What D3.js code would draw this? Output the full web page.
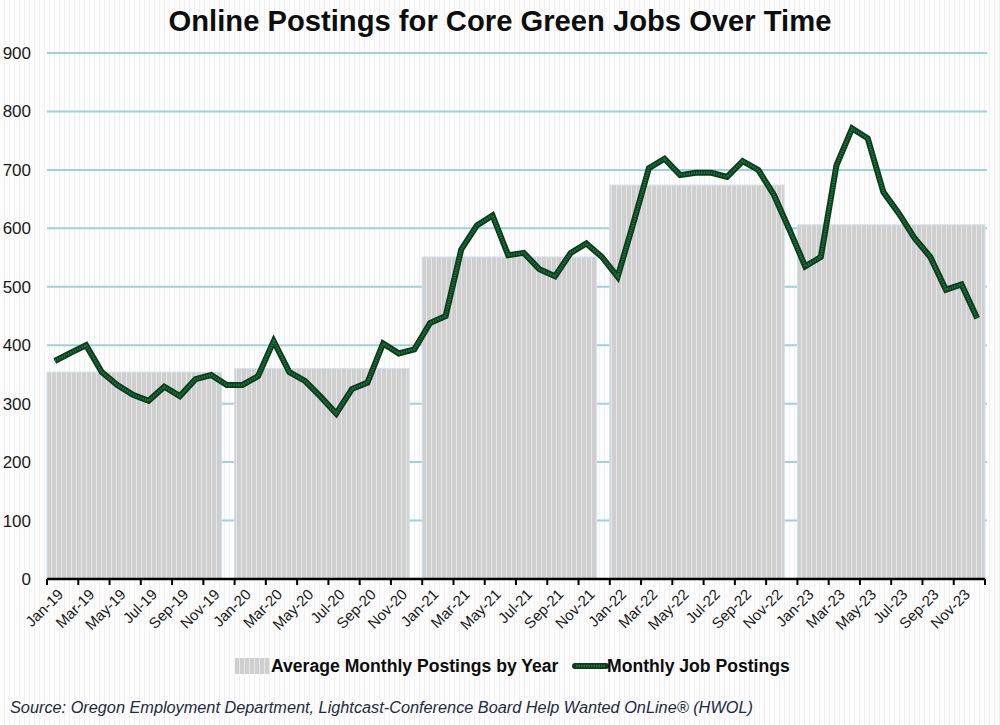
<!DOCTYPE html>
<html>
<head>
<meta charset="utf-8">
<script src="https://cdn.jsdelivr.net/npm/d3@7"></script>
<style>
  body { margin: 0; background: #fff; }
  svg { display: block; font-family: "Liberation Sans", Arial, sans-serif; }
</style>
</head>
<body>
<div id="chart"></div>
<script>
// data
var years = ["19", "20", "21", "22", "23"];
var monthNames = ["Jan", "Feb", "Mar", "Apr", "May", "Jun", "Jul", "Aug", "Sep", "Oct", "Nov", "Dec"];
var yearlyAverage = [354, 360, 551, 674, 606];
var monthlyPostings = [
  373, 387, 400, 354, 332, 315, 305, 329, 313, 342, 349, 332,
  332, 347, 407, 354, 339, 312, 283, 325, 336, 403, 386, 393,
  438, 450, 564, 605, 622, 554, 558, 530, 518, 558, 574, 551,
  517, 608, 703, 719, 691, 695, 695, 688, 715, 700, 657, 597,
  535, 551, 708, 771, 754, 662, 625, 583, 551, 495, 504, 446
];
var yTicks = [0, 100, 200, 300, 400, 500, 600, 700, 800, 900];

var months = [];
years.forEach(function(y){
  monthNames.forEach(function(m){ months.push(m + "-" + y); });
});

var W = 1000, H = 725;
var margin = {top: 53, right: 15, bottom: 146, left: 47};
var w = 985 - margin.left;
var h = 579 - margin.top;

var svg = d3.select("#chart").append("svg")
  .attr("width", W)
  .attr("height", H);

var defs = svg.append("defs");

// faint vertical texture of the background
var bgPat = defs.append("pattern")
  .attr("id", "bg-stripes")
  .attr("width", 5).attr("height", 10)
  .attr("patternUnits", "userSpaceOnUse");
bgPat.append("rect").attr("width", 5).attr("height", 10).attr("fill", "#fdfdfd");
bgPat.append("rect").attr("x", 4).attr("width", 1).attr("height", 10).attr("fill", "#f1f1f1");

// grey columns with light vertical stripes
var barPat = defs.append("pattern")
  .attr("id", "bar-stripes")
  .attr("width", 5).attr("height", 10)
  .attr("patternUnits", "userSpaceOnUse");
barPat.append("rect").attr("width", 5).attr("height", 10).attr("fill", "#cfcfcf");
barPat.append("rect").attr("x", 4).attr("width", 1).attr("height", 10).attr("fill", "#e6e6e6");

svg.append("rect")
  .attr("width", W).attr("height", H)
  .attr("fill", "url(#bg-stripes)");

svg.append("text")
  .attr("x", 500).attr("y", 31)
  .attr("text-anchor", "middle")
  .style("font-size", "29.2px")
  .style("font-weight", "bold")
  .attr("fill", "#0d0d0d")
  .text("Online Postings for Core Green Jobs Over Time");

var g = svg.append("g")
  .attr("transform", "translate(" + margin.left + "," + margin.top + ")");

var x = d3.scaleBand()
  .domain(months)
  .range([0, w])
  .padding(0);

var y = d3.scaleLinear()
  .domain([0, 900])
  .range([h, 0]);

// gridlines
g.append("g")
  .selectAll("line")
  .data(yTicks.slice(1))
  .enter().append("line")
  .attr("x1", 0).attr("x2", w + 2)
  .attr("y1", function(d){ return y(d); })
  .attr("y2", function(d){ return y(d); })
  .attr("stroke", "#9fd2d8")
  .attr("stroke-width", 2);

// yearly average columns
g.append("g")
  .selectAll("rect")
  .data(yearlyAverage)
  .enter().append("rect")
  .attr("x", function(d, i){ return x("Jan-" + years[i]); })
  .attr("y", function(d){ return y(d); })
  .attr("width", function(d, i){
    var end = x("Dec-" + years[i]) + (i === years.length - 1 ? x.bandwidth() : x.bandwidth() * 0.16);
    return end - x("Jan-" + years[i]);
  })
  .attr("height", function(d){ return h - y(d); })
  .attr("fill", "url(#bar-stripes)")
  .attr("stroke", "#cfe2ee")
  .attr("stroke-width", 1);

// y axis labels
g.append("g")
  .selectAll("text")
  .data(yTicks)
  .enter().append("text")
  .attr("x", -16)
  .attr("y", function(d){ return y(d); })
  .attr("dy", "0.35em")
  .attr("text-anchor", "end")
  .style("font-size", "17px")
  .attr("fill", "#1a1a1a")
  .text(function(d){ return d; });

// x axis line and ticks (between categories, every 2 months)
var xAxis = g.append("g").attr("transform", "translate(0," + h + ")");
xAxis.append("line")
  .attr("x1", 0).attr("x2", w)
  .attr("stroke", "#000").attr("stroke-width", 2.5);
xAxis.selectAll(".tick")
  .data(months.filter(function(d, i){ return i % 2 === 0; }).concat(["end"]))
  .enter().append("line")
  .attr("x1", function(d){ return d === "end" ? w : x(d); })
  .attr("x2", function(d){ return d === "end" ? w : x(d); })
  .attr("y1", 0).attr("y2", 6)
  .attr("stroke", "#000").attr("stroke-width", 2);
xAxis.selectAll("text")
  .data(months.filter(function(d, i){ return i % 2 === 0; }))
  .enter().append("text")
  .attr("transform", function(d){
    return "translate(" + (x(d) + x.bandwidth() / 2 + 2) + ",9) rotate(-45)";
  })
  .attr("text-anchor", "end")
  .attr("dy", "0.7em")
  .style("font-size", "15px")
  .attr("fill", "#1a1a1a")
  .text(function(d){ return d; });

// monthly line
var line = d3.line()
  .x(function(d, i){ return x(months[i]) + x.bandwidth() / 2; })
  .y(function(d){ return y(d); });

g.append("path")
  .datum(monthlyPostings)
  .attr("d", line)
  .attr("fill", "none")
  .attr("stroke", "#0f3a1d")
  .attr("stroke-width", 6)
  .attr("stroke-linejoin", "miter");
g.append("path")
  .datum(monthlyPostings)
  .attr("d", line)
  .attr("fill", "none")
  .attr("stroke", "#16793a")
  .attr("stroke-width", 2.5)
  .attr("stroke-dasharray", "1.5,1")
  .attr("stroke-linejoin", "miter");

// legend
var legend = svg.append("g").attr("transform", "translate(0,666)");
legend.append("rect")
  .attr("x", 235).attr("y", -8)
  .attr("width", 35).attr("height", 16)
  .attr("fill", "url(#bar-stripes)");
legend.append("text")
  .attr("x", 271).attr("y", 0).attr("dy", "0.35em")
  .style("font-size", "17.6px").style("font-weight", "bold")
  .attr("fill", "#0d0d0d")
  .text("Average Monthly Postings by Year");
legend.append("line")
  .attr("x1", 575).attr("x2", 606)
  .attr("stroke", "#0f3a1d").attr("stroke-width", 6).attr("stroke-linecap", "round");
legend.append("line")
  .attr("x1", 576).attr("x2", 605)
  .attr("stroke", "#16793a").attr("stroke-width", 2.5).attr("stroke-dasharray", "1.5,1");
legend.append("text")
  .attr("x", 607).attr("y", 0).attr("dy", "0.35em")
  .style("font-size", "17.6px").style("font-weight", "bold")
  .attr("fill", "#0d0d0d")
  .text("Monthly Job Postings");

// source note
svg.append("text")
  .attr("x", 10).attr("y", 713)
  .style("font-size", "16.3px")
  .style("font-style", "italic")
  .attr("fill", "#1f2a44")
  .text("Source: Oregon Employment Department, Lightcast-Conference Board Help Wanted OnLine® (HWOL)");
</script>
</body>
</html>
